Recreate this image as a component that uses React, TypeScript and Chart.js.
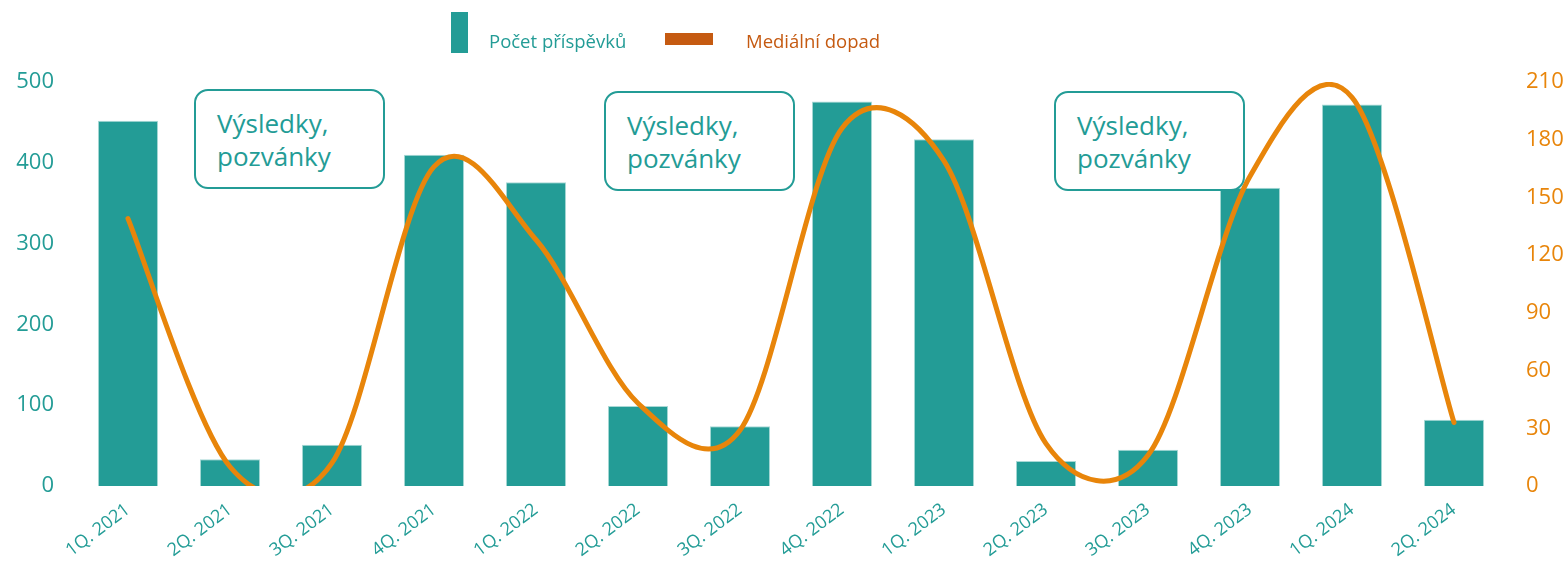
import React, { useEffect, useRef } from 'react';
import { Chart, registerables } from 'chart.js';

Chart.register(...registerables);

const categories = [
  '1Q. 2021', '2Q. 2021', '3Q. 2021', '4Q. 2021',
  '1Q. 2022', '2Q. 2022', '3Q. 2022', '4Q. 2022',
  '1Q. 2023', '2Q. 2023', '3Q. 2023', '4Q. 2023',
  '1Q. 2024', '2Q. 2024',
];
const postCounts = [452, 33, 51, 410, 376, 99, 74, 476, 429, 31, 45, 369, 472, 82];
const mediaImpact = [139, 10, 12, 166, 128, 43, 29, 186, 169, 22, 16, 161, 202, 33];

const seriesNames = ['Počet příspěvků', 'Mediální dopad'];
const noteLines = ['Výsledky,', 'pozvánky'];

const TEAL = '#239C96';
const ORANGE = '#E8850A';
const DARK_ORANGE = '#C55A11';
const FONT = '"Open Sans", "DejaVu Sans", sans-serif';

const noteBoxes = [
  { left: 194, top: 89 },
  { left: 604, top: 91 },
  { left: 1054, top: 91 },
];

// Office-style smoothing: Catmull-Rom tangents (1/6), capped at half the segment length
const officeSmoothing = {
  id: 'officeSmoothing',
  beforeDatasetDraw(chart: any, args: any) {
    const meta = args.meta;
    if (meta.type !== 'line') return;
    const line: any = meta.dataset;
    const pts: any[] = meta.data;
    if (line && typeof line.updateControlPoints === 'function') {
      line.updateControlPoints(chart.chartArea, 'x');
    }
    const n = pts.length;
    for (let i = 0; i < n; i++) {
      const p = pts[i];
      const prev = pts[Math.max(0, i - 1)];
      const next = pts[Math.min(n - 1, i + 1)];
      const tx = (next.x - prev.x) / 6;
      const ty = (next.y - prev.y) / 6;
      const tl = Math.hypot(tx, ty) || 1;
      if (i < n - 1) {
        const half = Math.hypot(next.x - p.x, next.y - p.y) / 2;
        const s = tl > half ? half / tl : 1;
        p.cp2x = p.x + tx * s;
        p.cp2y = p.y + ty * s;
      } else {
        p.cp2x = p.x;
        p.cp2y = p.y;
      }
      if (i > 0) {
        const half = Math.hypot(p.x - prev.x, p.y - prev.y) / 2;
        const s = tl > half ? half / tl : 1;
        p.cp1x = p.x - tx * s;
        p.cp1y = p.y - ty * s;
      } else {
        p.cp1x = p.x;
        p.cp1y = p.y;
      }
    }
    if (line) line._path = undefined;
  },
};

export default function App() {
  const canvasRef = useRef<HTMLCanvasElement | null>(null);

  useEffect(() => {
    document.body.style.margin = '0';
    const canvas = canvasRef.current;
    if (!canvas) return;
    const chart = new Chart(canvas, {
      type: 'bar',
      data: {
        labels: categories,
        datasets: [
          {
            type: 'line',
            label: seriesNames[1],
            data: mediaImpact,
            yAxisID: 'y1',
            borderColor: ORANGE,
            backgroundColor: ORANGE,
            borderWidth: 5,
            tension: 0.4,
            pointRadius: 0,
            borderCapStyle: 'round',
            borderJoinStyle: 'round',
            capBezierPoints: false,
            clip: 0,
            order: 0,
          } as any,
          {
            type: 'bar',
            label: seriesNames[0],
            data: postCounts,
            yAxisID: 'y',
            backgroundColor: TEAL,
            borderColor: '#A9D9D6',
            borderWidth: 1,
            barPercentage: 0.59,
            categoryPercentage: 1,
            order: 1,
          } as any,
        ],
      },
      options: {
        responsive: false,
        animation: false,
        layout: { padding: { top: 82, left: 0, right: 0, bottom: 0 } },
        plugins: {
          legend: { display: false },
          tooltip: { enabled: false },
        },
        scales: {
          x: {
            grid: { display: false },
            border: { display: false },
            ticks: {
              color: TEAL,
              font: { family: FONT, size: 18 },
              minRotation: 37,
              maxRotation: 37,
              padding: 5,
              autoSkip: false,
            },
            afterFit: (s: any) => { s.height = 75; },
          },
          y: {
            position: 'left',
            min: 0,
            max: 500,
            grid: { display: false },
            border: { display: false },
            ticks: {
              stepSize: 100,
              color: TEAL,
              font: { family: FONT, size: 22 },
              padding: 15,
            },
            afterFit: (s: any) => { s.width = 77; },
          },
          y1: {
            position: 'right',
            min: 0,
            max: 210,
            grid: { display: false },
            border: { display: false },
            ticks: {
              stepSize: 30,
              color: ORANGE,
              font: { family: FONT, size: 22 },
              padding: 13,
            },
            afterFit: (s: any) => { s.width = 61; },
          },
        },
      } as any,
      plugins: [officeSmoothing],
    });
    return () => chart.destroy();
  }, []);

  return (
    <div style={{ position: 'relative', width: 1566, height: 561, background: '#fff', fontFamily: FONT }}>
      <canvas ref={canvasRef} width={1566} height={561} style={{ position: 'absolute', left: 0, top: 0, width: 1566, height: 561 }} />
      <div style={{ position: 'absolute', left: 451, top: 12, width: 17, height: 41, background: TEAL }} />
      <div style={{ position: 'absolute', left: 489, top: 28, fontSize: 18.5, lineHeight: '26px', color: TEAL, whiteSpace: 'nowrap' }}>{seriesNames[0]}</div>
      <div style={{ position: 'absolute', left: 665, top: 33, width: 48, height: 12, background: DARK_ORANGE }} />
      <div style={{ position: 'absolute', left: 746, top: 28, fontSize: 18.5, lineHeight: '26px', color: DARK_ORANGE, whiteSpace: 'nowrap' }}>{seriesNames[1]}</div>
      {noteBoxes.map((b, i) => (
        <div
          key={i}
          style={{
            position: 'absolute',
            left: b.left,
            top: b.top,
            width: 191,
            height: 100,
            boxSizing: 'border-box',
            border: `2.5px solid ${TEAL}`,
            borderRadius: 14,
            background: '#fff',
            color: TEAL,
            fontSize: 26,
            lineHeight: '33px',
            paddingLeft: 21,
            paddingTop: 16,
            whiteSpace: 'nowrap',
          }}
        >
          <div>{noteLines[0]}</div>
          <div>{noteLines[1]}</div>
        </div>
      ))}
    </div>
  );
}
